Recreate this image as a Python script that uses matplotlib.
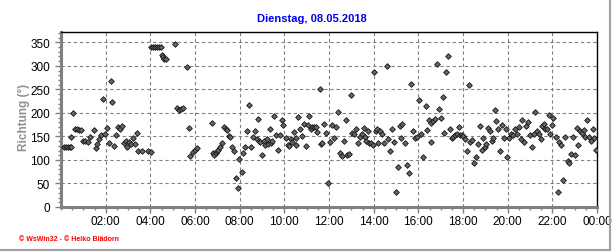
import numpy as np
import matplotlib.pyplot as plt
from matplotlib.lines import Line2D
from matplotlib.ticker import MultipleLocator

plt.rcParams['font.family'] = ['Liberation Sans', 'DejaVu Sans']

# time of day in hours, wind direction in degrees
hours = [
    0.13, 0.22, 0.31, 0.40, 0.45, 0.46, 0.55, 0.64, 0.73, 0.81, 0.90, 1.00, 1.06,
    1.21, 1.32, 1.48, 1.57, 1.63, 1.70, 1.78, 1.88, 1.96, 2.08, 2.17, 2.26, 2.30,
    2.39, 2.48, 2.57, 2.66, 2.75, 2.84, 2.91, 2.97, 3.06, 3.15, 3.24, 3.33, 3.42,
    3.45, 3.63, 3.90, 4.02,
    4.05, 4.13, 4.21, 4.30, 4.39, 4.47, 4.50, 4.56, 4.62, 4.71, 5.10, 5.19, 5.28,
    5.37, 5.46, 5.66, 5.75, 5.78, 5.92, 6.00, 6.08, 6.74, 6.80, 6.86, 6.94, 7.00,
    7.04, 7.13, 7.20, 7.32, 7.37, 7.43, 7.50, 7.58, 7.64, 7.73, 7.82, 7.91, 7.97,
    8.09, 8.15, 8.24, 8.33, 8.40, 8.49, 8.59, 8.68, 8.78, 8.81, 8.87, 8.93, 8.98,
    9.07, 9.13, 9.22, 9.28, 9.37, 9.40, 9.46, 9.55, 9.64, 9.73, 9.82, 9.91, 9.96,
    10.06, 10.15, 10.21, 10.30, 10.34, 10.42, 10.51, 10.54, 10.63, 10.72, 10.81,
    10.90, 10.99, 11.08, 11.12, 11.20, 11.26, 11.34, 11.40, 11.48, 11.58, 11.64,
    11.70, 11.79, 11.88, 11.97, 12.03,
    12.15, 12.24, 12.33, 12.39, 12.48, 12.57, 12.66, 12.75, 12.81, 12.90, 12.97,
    13.05, 13.14, 13.23, 13.32, 13.41, 13.47, 13.56, 13.62, 13.66, 13.74, 13.80,
    13.89, 13.95, 14.00, 14.09, 14.15, 14.21, 14.30, 14.39, 14.48, 14.59, 14.66,
    14.72, 14.81, 14.90, 14.99, 15.08, 15.17, 15.23, 15.29, 15.40, 15.49, 15.56,
    15.66, 15.76, 15.83, 15.92, 16.04,
    16.13, 16.22, 16.34, 16.40, 16.46, 16.55, 16.58, 16.67, 16.73, 16.82, 16.91,
    17.00, 17.09, 17.15, 17.24, 17.33, 17.42, 17.50, 17.56, 17.63, 17.71, 17.80,
    17.86, 17.95, 18.00, 18.10, 18.19, 18.25, 18.31, 18.40, 18.49, 18.58, 18.67,
    18.76, 18.85, 18.89, 18.97, 19.05, 19.14, 19.20, 19.29, 19.35, 19.44, 19.49,
    19.56, 19.65, 19.74, 19.83, 19.92, 19.98, 20.07,
    20.16, 20.25, 20.34, 20.43, 20.49, 20.58, 20.64, 20.73, 20.82, 20.91, 21.00,
    21.09, 21.18, 21.24, 21.30, 21.39, 21.48, 21.54, 21.63, 21.69, 21.78, 21.84,
    21.90, 21.99, 22.05, 22.17, 22.26, 22.32, 22.38, 22.47, 22.56, 22.68, 22.74,
    22.83, 22.92, 23.03, 23.09, 23.15, 23.24, 23.33, 23.42, 23.48, 23.57, 23.63,
    23.72, 23.81, 23.87, 23.96,
]
direction = [
    127, 127, 127, 127, 127, 149, 200, 166, 165, 163, 163, 141, 141,
    139, 149, 163, 126, 133, 145, 152, 230, 156, 168, 137, 268, 224,
    130, 153, 170, 165, 172, 137, 141, 127, 138, 134, 147, 134, 158,
    118, 118, 119, 116,
    341, 341, 341, 341, 341, 341, 323, 318, 314, 314, 346, 210, 207,
    208, 211, 298, 168, 109, 117, 122, 125, 179, 115, 111, 114, 118,
    122, 128, 137, 170, 166, 163, 151, 149, 128, 118, 61, 41, 102,
    75, 115, 128, 161, 217, 127, 149, 161, 145, 187, 141, 138, 111,
    141, 132, 144, 133, 166, 137, 141, 193, 153, 122, 153, 184, 175,
    146, 132, 130, 144, 139, 160, 146, 131, 191, 166, 151,
    176, 130, 175, 193, 166, 170, 169, 170, 160, 251, 134,
    137, 177, 158, 50, 138,
    175, 146, 169, 203, 115, 108, 141, 184, 111, 113, 239,
    158, 156, 165, 137, 149, 156, 168, 149, 140, 161, 137,
    135, 131, 288, 161, 166, 137, 161, 156, 137, 300, 145,
    118, 166, 139, 31, 86, 173, 146, 177, 137, 90, 73,
    262, 161, 146, 149, 227,
    156, 106, 215, 163, 186, 139, 179, 182, 187, 303, 209,
    190, 234, 158, 287, 321, 165, 146, 149, 153, 156, 170,
    153, 152, 151, 144, 118, 259, 139, 142, 94, 106, 133,
    172, 122, 147, 127, 134, 168, 161, 141, 147, 206, 182,
    166, 118, 175, 146, 166, 107, 146,
    156, 152, 165, 156, 170, 144, 186, 139, 172, 180, 152,
    128, 155, 202, 161, 155, 145, 172, 177, 166, 165, 196,
    156, 175, 190, 149, 31, 138, 132, 57, 148, 97, 94,
    112, 148, 111, 168, 132, 161, 158, 163, 149, 186, 149,
    141, 165, 146, 121,
]

x_ticks = list(range(2, 25, 2))
x_labels = ['%02d:00' % (h % 24) for h in x_ticks]
y_ticks = list(range(0, 351, 50))

W, H = 616, 253
fig = plt.figure(figsize=(W / 100, H / 100), dpi=100)
ax = fig.add_axes([61 / W, 1 - 208 / H, (597 - 61) / W, (208 - 33) / H])

ax.plot(hours, direction, linestyle='none', marker='D', ms=2.9,
        mfc='#666666', mec='#151515', mew=0.6, zorder=3)

ax.set_xlim(0, 24)
ax.set_ylim(0, 372)
ax.set_xticks(x_ticks)
ax.set_xticklabels(x_labels)
ax.xaxis.set_minor_locator(MultipleLocator(0.5))
ax.set_yticks(y_ticks)
ax.yaxis.set_minor_locator(MultipleLocator(10))
ax.tick_params(axis='both', which='major', labelsize=8.5, length=4,
               width=1, color='#808080')
ax.tick_params(axis='x', which='major', pad=2)
ax.tick_params(axis='y', which='major', pad=4)
ax.tick_params(axis='both', which='minor', length=2.5, width=1, color='#808080')

ax.grid(True, which='major', linestyle=(0, (3, 2.5)), color='#808080', linewidth=0.8)

for side in ('left', 'bottom'):
    ax.spines[side].set_color('#808080')
    ax.spines[side].set_linewidth(2.2)
for side in ('top', 'right'):
    ax.spines[side].set_color('black')
    ax.spines[side].set_linewidth(1)

ax.set_ylabel('Richtung (°)', color='#909090', fontweight='bold', fontsize=8.5)
ax.yaxis.set_label_coords((30 - 61) / 536, 0.52)

fig.text(312 / W, 1 - 19 / H, 'Dienstag, 08.05.2018', color='#0000ee',
         fontweight='bold', fontsize=8, ha='center', va='center')
fig.text(19 / W, 1 - 240 / H, '© WsWin32 - © Heiko Blädorn', color='#ff0000',
         fontweight='bold', fontsize=5, ha='left', va='center')

# outer frame lines of the original image
fig.add_artist(Line2D([610 / W, 610 / W], [1 - 251 / H, 1], color='#a0a0a0', lw=1.5))
fig.add_artist(Line2D([0, 610 / W], [1 - 251 / H, 1 - 251 / H], color='#a0a0a0', lw=1.5))

fig.savefig('out.png', dpi=100)
